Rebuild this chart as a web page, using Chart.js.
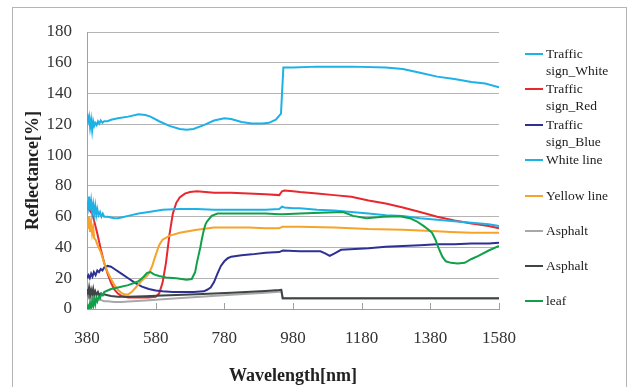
<!DOCTYPE html>
<html>
<head>
<meta charset="utf-8">
<script src="https://cdn.jsdelivr.net/npm/chart.js@4.4.1/dist/chart.umd.min.js"></script>
<style>
  body { margin: 0; background: #fff; }
  #wrap { position: relative; width: 630px; height: 387px; overflow: hidden; }
  #frame { position: absolute; left: 12px; top: 7px; width: 615px; height: 420px; border: 1px solid #b4b4b4; box-sizing: border-box; }
  canvas { position: absolute; left: 0; top: 0; }
  .lg { position: absolute; left: 525px; font: 13.5px "Liberation Serif", serif; color: #222; line-height: 16.7px; }
  .lg i { position: absolute; left: 0; top: 7px; width: 18px; height: 2px; }
  .lg span { position: absolute; left: 21px; top: 0; white-space: nowrap; }
</style>
</head>
<body>
<div id="wrap">
  <div id="frame"></div>
  <canvas id="chart" width="630" height="387"></canvas>
  <div id="legend"></div>
</div>
<script>
// series labels and colours
const seriesNames = ['Traffic sign_White', 'Traffic sign_Red', 'Traffic sign_Blue', 'White line', 'Yellow line', 'Asphalt', 'Asphalt', 'leaf'];
const legendLines = [['Traffic', 'sign_White'], ['Traffic', 'sign_Red'], ['Traffic', 'sign_Blue'], ['White line'], ['Yellow line'], ['Asphalt'], ['Asphalt'], ['leaf']];
const seriesColors = ['#1eb1e8', '#e8282e', '#2e3192', '#1eb1e8', '#f6a32a', '#a8a8a8', '#3f4447', '#10a04a'];

// axis ticks
const xTicks = [380, 580, 780, 980, 1180, 1380, 1580];
const yTicks = [0, 20, 40, 60, 80, 100, 120, 140, 160, 180];

// Traffic sign_White
const signWhiteNm = [380,383,386,389,392,395,398,401,404,408,412,416,420,425,430,440,450,470,500,530,550,565,590,620,650,670,690,720,750,780,800,830,860,890,910,930,945,948,952,980,1050,1150,1250,1300,1350,1400,1450,1500,1540,1580];
const signWhite = [127,122,125,118,123,116,122,119,121,119.5,122,120.5,122.5,121,122,122,123,124,125,126.5,126,125,122,119,117,116.5,117,119.5,122.5,124,123.5,121.5,120.5,120.5,121,123,127,140,157,157,157.5,157.5,157,156,153.5,151,149.5,147.5,146.5,144];

// Traffic sign_Red
const signRedNm = [380,385,390,395,400,410,420,430,440,450,460,470,480,490,500,530,560,580,590,600,610,620,630,640,650,665,680,700,750,800,850,900,940,948,955,980,1000,1050,1100,1150,1200,1250,1300,1350,1400,1450,1500,1550,1580];
const signRed = [66,65,63.5,62,58,49,39,30,23,17,12.5,10,8.5,8,7.5,7.5,7.5,8,10,17,30,48,62,69,72.5,75,76,76.5,75.5,75.5,75,74.5,74,76.5,77,76.5,76,75,74,73,70.5,68.5,66,63,60,57.5,55.5,54,52.5];

// Traffic sign_Blue
const signBlueNm = [380,384,388,392,396,400,405,410,415,420,425,430,440,450,460,480,500,520,540,560,580,600,630,660,690,720,730,740,750,760,770,780,790,800,830,860,900,940,950,1000,1060,1075,1087,1100,1120,1160,1200,1250,1300,1350,1400,1450,1500,1550,1580];
const signBlue = [20,22,20,23,21,24,22,25,24,26,25,27,28,27.5,26,23,20,17,14.5,13,12,11.5,11,11,11,11.5,12.5,14,17.5,23,28,31,33,34,35,35.5,36.5,37,38,37.5,37.5,36,34.5,36,38.5,39,39.5,40.5,41,41.5,42,42,42.5,42.5,43];

// White line
const whiteLineNm = [380,383,386,389,392,395,398,401,404,407,410,414,418,422,426,430,440,450,460,470,480,500,530,560,600,650,700,750,800,850,900,940,948,955,980,1000,1050,1100,1150,1200,1250,1300,1350,1400,1450,1500,1550,1580];
const whiteLine = [70,66,73,64,70,63,68,62,67,61,65,61,63,60,62,60,60,59.5,59,59,59.5,60.5,62,63,64.5,65,65,64.5,64.5,64.5,64.5,65,66.5,66,65.5,65.5,64.5,64,63,62,61,60.5,59,58,57,56,55,54];

// Yellow line
const yellowLineNm = [380,383,386,389,392,395,398,401,405,410,420,430,440,450,460,470,480,490,500,510,520,530,540,550,560,570,580,590,600,620,650,700,750,800,850,900,940,950,1000,1100,1200,1300,1400,1440,1500,1580];
const yellowLine = [58,52,60,50,56,49,53,46,45,42,37,30,24,19.5,15.5,12.5,10.5,9.5,9.5,11,13.5,16,18.5,20.5,23,28,35,41.5,45,47.5,49.5,51.5,53,53,53,52.5,52.5,53.5,53.5,53,52,51.5,50.5,50,49.5,49.5];

// Asphalt (light)
const asphaltANm = [380,385,390,395,400,410,420,430,440,460,480,500,550,600,700,800,900,940,946,950,1000,1580];
const asphaltA = [9,7,8,6,7,5.5,6,5,5,4.5,4.5,4.8,5.5,6.3,7.8,9.2,10.6,11.2,11.3,6.8,6.8,6.8];

// Asphalt (dark)
const asphaltBNm = [380,383,386,389,392,395,398,401,404,408,412,416,420,425,430,440,450,470,500,550,600,700,800,900,940,946,950,1000,1580];
const asphaltB = [13,10,14,9,12.5,9.5,13,9,11.5,9,11,9,10,9,9.5,9,8.5,8,8,8.3,8.7,9.6,10.6,11.7,12.3,12.5,7,7,7];

// leaf
const leafNm = [380,383,386,389,392,395,398,401,404,407,410,414,418,422,426,430,440,450,470,500,530,545,555,565,575,590,610,640,670,685,695,700,705,710,715,720,725,730,743,760,800,900,940,950,1000,1060,1126,1155,1194,1243,1291,1320,1340,1360,1375,1385,1395,1405,1415,1425,1440,1460,1480,1500,1520,1550,1580];
const leaf = [0,2,0,4,1,5,2,6,3,7,5,8,7,10,9,11,12,13,14,15.5,18,21,23.5,24,22.5,21.5,20.5,20,19,19.5,24,30,35,40,46,51,55,57,60.5,62,62,62,61.5,61.5,62,62.5,63,60.5,59,60,60.3,59,57,54,51.5,49.5,45,39,34,31,30,29.5,30,32.5,34.5,38,41];

const seriesNm = [signWhiteNm, signRedNm, signBlueNm, whiteLineNm, yellowLineNm, asphaltANm, asphaltBNm, leafNm];
const seriesVal = [signWhite, signRed, signBlue, whiteLine, yellowLine, asphaltA, asphaltB, leaf];

const datasets = seriesNames.map((name, i) => ({
  label: name,
  data: seriesNm[i].map((x, j) => ({ x: x, y: seriesVal[i][j] })),
  borderColor: seriesColors[i],
  borderWidth: 2,
  pointRadius: 0,
  fill: false,
  tension: 0,
  order: seriesNames.length - i
}));

// short tick marks on the inside of the x axis
const innerTicks = {
  id: 'innerTicks',
  beforeDatasetsDraw(chart) {
    const ctx = chart.ctx;
    const xs = chart.scales.x;
    const bottom = chart.chartArea.bottom;
    ctx.save();
    ctx.strokeStyle = '#a0a0a0';
    ctx.lineWidth = 1;
    xTicks.forEach(v => {
      const px = Math.round(xs.getPixelForValue(v)) + 0.5;
      ctx.beginPath();
      ctx.moveTo(px, bottom);
      ctx.lineTo(px, bottom - 6);
      ctx.stroke();
    });
    ctx.restore();
  }
};

const tickFont = { family: 'Liberation Serif', size: 17 };
const titleFont = { family: 'Liberation Serif', size: 18, weight: 'bold' };

new Chart(document.getElementById('chart'), {
  type: 'line',
  data: { datasets: datasets },
  plugins: [innerTicks],
  options: {
    responsive: false,
    animation: false,
    devicePixelRatio: 1,
    layout: { padding: { left: 0, right: 131, top: 32, bottom: 0 } },
    plugins: { legend: { display: false }, tooltip: { enabled: false } },
    scales: {
      x: {
        type: 'linear',
        min: 380,
        max: 1580,
        afterFit: s => { s.height = 78; },
        afterBuildTicks: s => { s.ticks = xTicks.map(v => ({ value: v })); },
        ticks: { font: tickFont, color: '#333', padding: 19, maxRotation: 0, callback: v => String(v) },
        grid: { drawOnChartArea: false, drawTicks: false },
        border: { color: '#a0a0a0' },
        title: { display: true, text: 'Wavelength[nm]', font: titleFont, color: '#222', padding: { top: 0, bottom: 0 } }
      },
      y: {
        min: 0,
        max: 180,
        afterFit: s => { s.width = 87; },
        afterBuildTicks: s => { s.ticks = yTicks.map(v => ({ value: v })); },
        ticks: { font: tickFont, color: '#333', padding: 15, callback: v => String(v) },
        grid: { color: '#b4b4b4', drawTicks: false },
        border: { color: '#a0a0a0' },
        title: { display: true, text: 'Reflectance[%]', font: titleFont, color: '#222', padding: { top: 23, bottom: 0 } }
      }
    }
  }
});

// legend on the right, text wrapped like the original
const legendY = [54, 89, 125, 160, 196, 231, 266, 301];
const legendBox = document.getElementById('legend');
legendLines.forEach((lines, i) => {
  const item = document.createElement('div');
  item.className = 'lg';
  item.style.top = (legendY[i] - 8) + 'px';
  const mark = document.createElement('i');
  mark.style.background = seriesColors[i];
  const text = document.createElement('span');
  text.innerHTML = lines.join('<br>');
  item.appendChild(mark);
  item.appendChild(text);
  legendBox.appendChild(item);
});
</script>
</body>
</html>
